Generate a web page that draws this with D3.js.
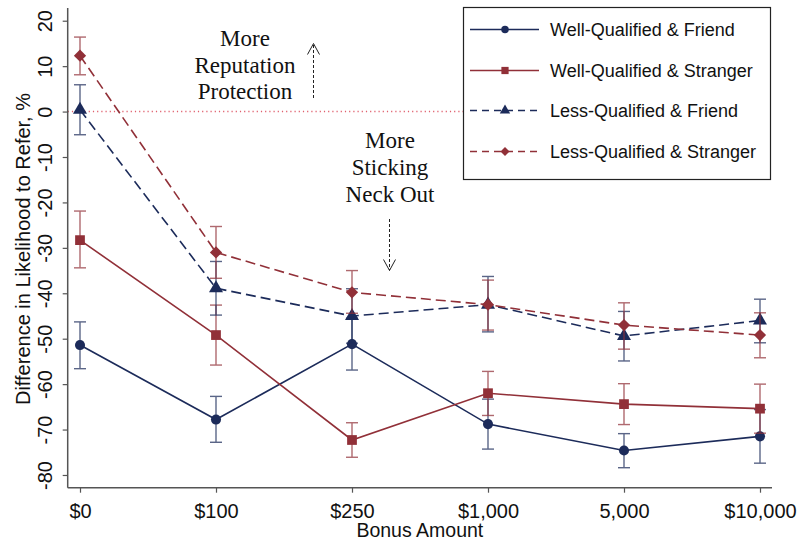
<!DOCTYPE html>
<html>
<head>
<meta charset="utf-8">
<script src="https://cdn.jsdelivr.net/npm/d3@7"></script>
<style>
  html, body { margin: 0; padding: 0; background: #fff; }
  svg { display: block; }
</style>
</head>
<body>
<svg id="chart" width="799" height="546"></svg>
<script>
// ---- Data ----
const categories = ["$0", "$100", "$250", "$1,000", "5,000", "$10,000"];
const yTicks = [20, 10, 0, -10, -20, -30, -40, -50, -60, -70, -80];
const seriesNames = ["Well-Qualified & Friend", "Well-Qualified & Stranger", "Less-Qualified & Friend", "Less-Qualified & Stranger"];

const wqf   = [-51.4, -67.8, -51.2, -68.8, -74.6, -71.5];
const wqfLo = [-56.6, -72.8, -56.9, -74.3, -78.4, -77.4];
const wqfHi = [-46.3, -62.7, -45.5, -63.3, -70.9, -65.6];

const wqs   = [-28.3, -49.2, -72.3, -62.0, -64.4, -65.4];
const wqsLo = [-34.4, -55.8, -76.1, -66.9, -68.9, -70.8];
const wqsHi = [-21.9, -42.6, -68.5, -57.2, -59.9, -60.0];

const lqf   = [0.4, -38.9, -45.0, -42.5, -49.4, -46.0];
const lqfLo = [-5.1, -44.8, -51.0, -48.5, -54.9, -50.9];
const lqfHi = [5.9, -33.0, -39.0, -36.3, -44.0, -41.3];

const lqs   = [12.3, -31.0, -39.8, -42.5, -47.0, -49.2];
const lqsLo = [8.1, -36.7, -44.4, -48.1, -52.3, -54.2];
const lqsHi = [16.4, -25.3, -35.0, -37.1, -42.1, -44.3];

// ---- Styles ----
const NAVY = "#1c2b5a";
const RED = "#913038";
const series = [
  { name: seriesNames[0], v: wqf, lo: wqfLo, hi: wqfHi, color: NAVY, dash: null, sym: d3.symbolCircle, size: 80, rot: 0 },
  { name: seriesNames[1], v: wqs, lo: wqsLo, hi: wqsHi, color: RED, dash: null, sym: d3.symbolSquare, size: 95, rot: 0 },
  { name: seriesNames[2], v: lqf, lo: lqfLo, hi: lqfHi, color: NAVY, dash: "10,5", sym: d3.symbolTriangle, size: 85, rot: 0 },
  { name: seriesNames[3], v: lqs, lo: lqsLo, hi: lqsHi, color: RED, dash: "10,5", sym: d3.symbolSquare, size: 75, rot: 45 }
];

const svg = d3.select("#chart");
const plot = { left: 67.7, right: 772, top: 8, bottom: 487.7 };

const x = d3.scalePoint().domain(categories).range([80, 760]);
const y = d3.scaleLinear().domain([-82.8, 22.8]).range([plot.bottom, plot.top]);

const AXIS = "#555";
const SANS = "'Liberation Sans', Arial, sans-serif";
const SERIF = "'Liberation Serif', 'Times New Roman', serif";

// zero reference line
svg.append("line")
  .attr("x1", plot.left).attr("x2", plot.right)
  .attr("y1", y(0)).attr("y2", y(0))
  .attr("stroke", "#e0606e").attr("stroke-width", 1.4)
  .attr("stroke-dasharray", "1.2,3");

// Y axis
const yAxis = d3.axisLeft(y).tickValues(yTicks).tickFormat(d => String(d))
  .tickSize(5).tickPadding(6).tickSizeOuter(0);
const gy = svg.append("g").attr("transform", `translate(${plot.left},0)`).call(yAxis);
gy.select(".domain").attr("stroke", AXIS).attr("stroke-width", 1.5)
  .attr("d", `M0,${plot.top}V${plot.bottom}`);
gy.selectAll(".tick line").attr("stroke", AXIS).attr("stroke-width", 1.2);
gy.selectAll(".tick text")
  .attr("font-family", SANS).attr("font-size", 20).attr("fill", "#111")
  .attr("text-anchor", "middle")
  .attr("x", 0).attr("dy", 0)
  .attr("transform", "translate(-16,0) rotate(-90)");

// X axis
const xAxis = d3.axisBottom(x).tickSize(5).tickPadding(6).tickSizeOuter(0);
const gx = svg.append("g").attr("transform", `translate(0,${plot.bottom})`).call(xAxis);
gx.select(".domain").attr("stroke", AXIS).attr("stroke-width", 1.5)
  .attr("d", `M${plot.left},0H${plot.right}`);
gx.selectAll(".tick line").attr("stroke", AXIS).attr("stroke-width", 1.2);
gx.selectAll(".tick text")
  .attr("font-family", SANS).attr("font-size", 20).attr("fill", "#111")
  .attr("dy", "0.95em");

// Axis titles
svg.append("text")
  .attr("x", (plot.left + plot.right) / 2).attr("y", 537)
  .attr("text-anchor", "middle")
  .attr("font-family", SANS).attr("font-size", 19.5).attr("fill", "#111")
  .text("Bonus Amount");
svg.append("text")
  .attr("transform", `translate(30,249) rotate(-90)`)
  .attr("text-anchor", "middle")
  .attr("font-family", SANS).attr("font-size", 20).attr("fill", "#111")
  .text("Difference in Likelihood to Refer, %");

// Series
series.forEach(s => {
  const pts = categories.map((c, i) => ({ c, v: s.v[i], lo: s.lo[i], hi: s.hi[i] }));
  const g = svg.append("g");
  // error bars
  const eb = g.append("g").attr("stroke", s.color).attr("stroke-width", 1.4).attr("opacity", 0.72);
  pts.forEach(p => {
    eb.append("line").attr("x1", x(p.c)).attr("x2", x(p.c)).attr("y1", y(p.lo)).attr("y2", y(p.hi));
    eb.append("line").attr("x1", x(p.c) - 6).attr("x2", x(p.c) + 6).attr("y1", y(p.lo)).attr("y2", y(p.lo));
    eb.append("line").attr("x1", x(p.c) - 6).attr("x2", x(p.c) + 6).attr("y1", y(p.hi)).attr("y2", y(p.hi));
  });
  // line
  g.append("path")
    .datum(pts)
    .attr("fill", "none").attr("stroke", s.color).attr("stroke-width", 1.6)
    .attr("stroke-dasharray", s.dash)
    .attr("d", d3.line().x(p => x(p.c)).y(p => y(p.v)));
  // markers
  g.selectAll("path.m").data(pts).join("path").attr("class", "m")
    .attr("d", d3.symbol().type(s.sym).size(s.size))
    .attr("transform", p => `translate(${x(p.c)},${y(p.v)}) rotate(${s.rot})`)
    .attr("fill", s.color);
});

// Annotations
const ann1 = ["More", "Reputation", "Protection"];
ann1.forEach((t, i) => {
  svg.append("text").attr("x", 245).attr("y", 46 + i * 26.7)
    .attr("text-anchor", "middle").attr("font-family", SERIF).attr("font-size", 23).attr("fill", "#111")
    .text(t);
});
const ann2 = ["More", "Sticking", "Neck Out"];
ann2.forEach((t, i) => {
  svg.append("text").attr("x", 390).attr("y", 148 + i * 26.9)
    .attr("text-anchor", "middle").attr("font-family", SERIF).attr("font-size", 23).attr("fill", "#111")
    .text(t);
});
// arrows
function arrow(x0, yFrom, yTo) {
  svg.append("line").attr("x1", x0).attr("x2", x0).attr("y1", yFrom).attr("y2", yTo)
    .attr("stroke", "#222").attr("stroke-width", 1).attr("stroke-dasharray", "3,2");
  const dir = yTo < yFrom ? 1 : -1;
  svg.append("path")
    .attr("d", `M${x0 - 6},${yTo + dir * 11}L${x0},${yTo}L${x0 + 6},${yTo + dir * 11}`)
    .attr("fill", "none").attr("stroke", "#222").attr("stroke-width", 1);
}
arrow(313.5, 98, 43.5);
arrow(389.5, 219, 270.5);

// Legend
const lg = svg.append("g");
lg.append("rect").attr("x", 463.5).attr("y", 7.5).attr("width", 307).attr("height", 172)
  .attr("fill", "#fff").attr("stroke", "#222").attr("stroke-width", 1.2);
const rowY = [29.5, 70.5, 110.5, 151.5];
series.forEach((s, i) => {
  lg.append("line").attr("x1", 470).attr("x2", 539).attr("y1", rowY[i]).attr("y2", rowY[i])
    .attr("stroke", s.color).attr("stroke-width", 1.6)
    .attr("stroke-dasharray", s.dash ? "7,5" : null);
  lg.append("path").attr("d", d3.symbol().type(s.sym).size(s.size * 0.55))
    .attr("transform", `translate(505,${rowY[i]}) rotate(${s.rot})`).attr("fill", s.color);
  lg.append("text").attr("x", 550).attr("y", rowY[i]).attr("dy", "0.35em")
    .attr("font-family", SANS).attr("font-size", 18).attr("fill", "#111")
    .text(s.name);
});
</script>
</body>
</html>
